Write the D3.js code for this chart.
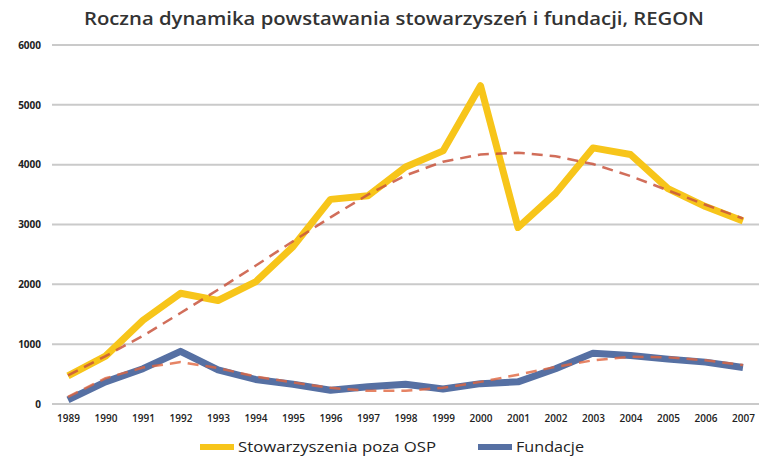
<!DOCTYPE html>
<html>
<head>
<meta charset="utf-8">
<title>Roczna dynamika powstawania stowarzyszeń i fundacji</title>
<script src="https://d3js.org/d3.v7.min.js"></script>
<style>
  body { margin: 0; background: #fff; }
  svg { display: block; font-family: "Open Sans", "DejaVu Sans", sans-serif; }
</style>
</head>
<body>
<div id="chart"></div>
<script>
// data
var years = ["1989","1990","1991","1992","1993","1994","1995","1996","1997","1998",
             "1999","2000","2001","2002","2003","2004","2005","2006","2007"];
var stowarzyszenia = [470, 800, 1400, 1850, 1730, 2040, 2630, 3420, 3480, 3960,
                      4230, 5320, 2950, 3520, 4280, 4170, 3600, 3300, 3060];
var stowTrend = [480, 800, 1140, 1520, 1910, 2310, 2720, 3120, 3500, 3820,
                 4050, 4170, 4200, 4140, 4010, 3810, 3570, 3330, 3100];
var fundacje = [70, 370, 590, 880, 570, 410, 330, 230, 290, 330,
                250, 340, 370, 590, 850, 810, 750, 700, 610];
var fundTrend = [120, 430, 610, 700, 600, 460, 360, 270, 220, 220,
                 270, 370, 490, 620, 730, 790, 780, 730, 650];
var yTicks = [0, 1000, 2000, 3000, 4000, 5000, 6000];
var legendLabels = ["Stowarzyszenia poza OSP", "Fundacje"];

var W = 759, H = 458;
var svg = d3.select("#chart").append("svg")
    .attr("width", W)
    .attr("height", H);

var x = d3.scalePoint().domain(years).range([68, 743]);
var y = d3.scaleLinear().domain([0, 6000]).range([404, 45]);

// title
svg.append("text")
    .attr("x", 394)
    .attr("y", 25)
    .attr("text-anchor", "middle")
    .attr("textLength", 620)
    .attr("lengthAdjust", "spacingAndGlyphs")
    .style("font-size", "18px")
    .style("font-weight", "600")
    .style("fill", "#333")
    .text("Roczna dynamika powstawania stowarzyszeń i fundacji, REGON");

// grid lines
svg.selectAll(".grid")
    .data(yTicks)
  .enter().append("line")
    .attr("class", "grid")
    .attr("x1", 52).attr("x2", W)
    .attr("y1", function (d) { return y(d); })
    .attr("y2", function (d) { return y(d); })
    .style("stroke", "#cacaca")
    .style("stroke-width", 2);

// y axis labels
var yAxis = d3.axisLeft(y).tickValues(yTicks).tickFormat(d3.format("d")).tickSize(0).tickPadding(0);
var gy = svg.append("g").attr("transform", "translate(41,0)").call(yAxis);
gy.select(".domain").remove();
gy.selectAll("text")
    .style("font-size", "10px")
    .style("font-weight", "700")
    .style("fill", "#222")
    .style("font-family", "'Open Sans', sans-serif");

// x axis labels
var xAxis = d3.axisBottom(x).tickSize(0).tickPadding(0);
var gx = svg.append("g").attr("transform", "translate(0,415)").call(xAxis);
gx.select(".domain").remove();
gx.selectAll("text")
    .style("font-size", "10px")
    .style("font-weight", "600")
    .style("fill", "#222")
    .style("font-family", "'Open Sans', sans-serif");

var line = d3.line()
    .x(function (d, i) { return x(years[i]); })
    .y(function (d) { return y(d); });

var yellow = "#f7c51a", blue = "#5670a3", red = "#c9553d";

svg.append("path").datum(stowarzyszenia)
    .attr("d", line)
    .style("fill", "none").style("stroke", yellow)
    .style("stroke-width", 7).style("stroke-linejoin", "round");

svg.append("path").datum(fundacje)
    .attr("d", line)
    .style("fill", "none").style("stroke", blue)
    .style("stroke-width", 7).style("stroke-linejoin", "round");

svg.append("path").datum(stowTrend)
    .attr("d", line)
    .style("fill", "none").style("stroke", red).style("opacity", 0.85)
    .style("stroke-width", 2.5).style("stroke-dasharray", "11,7");

svg.append("path").datum(fundTrend)
    .attr("d", line)
    .style("fill", "none").style("stroke", "#e0653f").style("opacity", 0.8)
    .style("stroke-width", 2.5).style("stroke-dasharray", "11,7");

// legend
var legend = [
  { label: legendLabels[0], color: yellow, x: 200, len: 198 },
  { label: legendLabels[1], color: blue, x: 478, len: 68 }
];
var lg = svg.selectAll(".legend")
    .data(legend)
  .enter().append("g")
    .attr("class", "legend")
    .attr("transform", function (d) { return "translate(" + d.x + ",447)"; });
lg.append("rect")
    .attr("x", 0).attr("y", -3)
    .attr("width", 34).attr("height", 6)
    .style("fill", function (d) { return d.color; });
lg.append("text")
    .attr("x", 38).attr("y", 5)
    .attr("textLength", function (d) { return d.len; })
    .attr("lengthAdjust", "spacingAndGlyphs")
    .style("font-size", "15px")
    .style("fill", "#222")
    .text(function (d) { return d.label; });
</script>
</body>
</html>
